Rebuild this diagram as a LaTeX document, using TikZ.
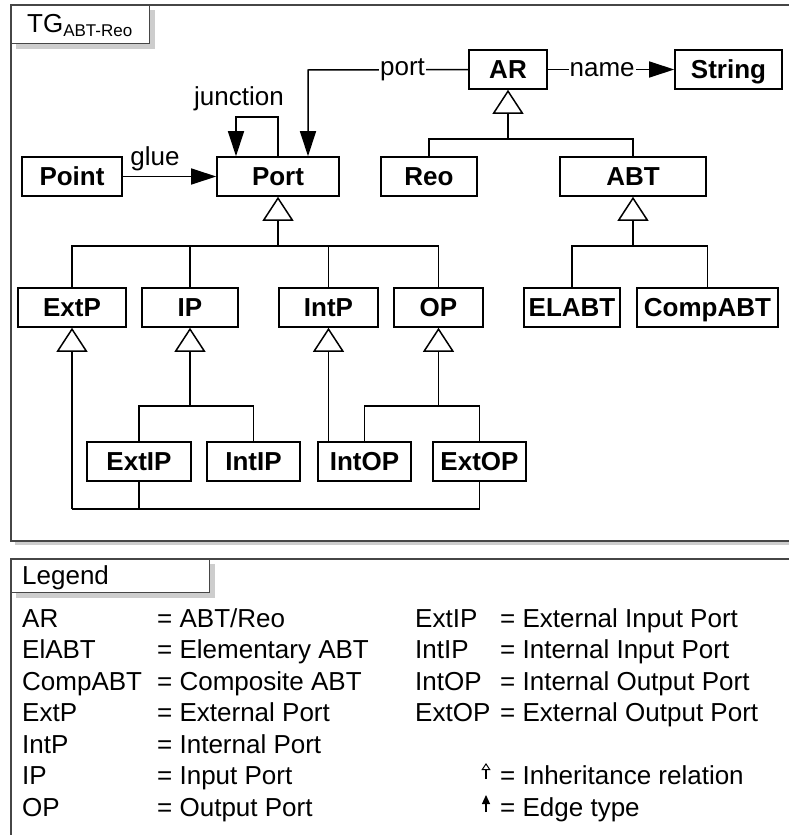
\documentclass[tikz,border=0pt]{standalone}
\usepackage{fontspec}
\setmainfont{Liberation Sans}
\usetikzlibrary{arrows.meta}
\definecolor{framec}{RGB}{70,70,70}
\definecolor{shadowc}{RGB}{205,205,205}
\begin{document}
\begin{tikzpicture}[x=1pt,y=-1pt,
  cls/.style={draw=black, fill=white, line width=1.6pt, inner sep=0pt,
    font=\fontsize{26}{30}\selectfont\bfseries, text height=18.6pt, text depth=0pt,
    minimum height=39pt},
  ln/.style={line width=1.2pt},
  inh/.style={line width=1.2pt, -{Triangle[open, length=24pt, width=31pt, line width=1.5pt]}},
  assoc/.style={line width=1.5pt, -{Triangle[length=25pt, width=16pt]}},
  lab/.style={font=\fontsize{26}{30}\selectfont, inner sep=1pt},
  leg/.style={font=\fontsize{26}{30}\selectfont, inner sep=0pt, anchor=base west},
  framel/.style={draw=framec, line width=1.3pt}
]
\useasboundingbox (0,0) rectangle (788,835);

% ---------- top frame ----------
\fill[shadowc] (15,541) rectangle (800,545);
\draw[framel] (800,5) -- (11,5) -- (11,541) -- (800,541);
\fill[shadowc] (16,10) rectangle (155,49);
\node[draw=framec, fill=white, line width=1.3pt, inner sep=0pt, minimum width=138pt,
      minimum height=38pt, anchor=north west] (tg) at (11,5) {};
\node[leg] (tgtext) at (27,32) {TG\raisebox{-4pt}{\fontsize{17}{20}\selectfont ABT-Reo}};

% ---------- classes ----------
\node[cls, minimum width=78pt]  (AR)     at (508,69.5) {AR};
\node[cls, minimum width=107pt] (String) at (728.5,69.5) {String};
\node[cls, minimum width=100pt] (Point)  at (72,176.5) {Point};
\node[cls, minimum width=122pt] (Port)   at (278,176.5) {Port};
\node[cls, minimum width=96pt]  (Reo)    at (429,176.5) {Reo};
\node[cls, minimum width=146pt] (ABT)    at (633,176.5) {ABT};

\node[cls, minimum width=108pt] (ExtP)    at (72,307.5) {ExtP};
\node[cls, minimum width=96pt]  (IP)      at (190,307.5) {IP};
\node[cls, minimum width=99pt]  (IntP)    at (328.5,307.5) {IntP};
\node[cls, minimum width=89pt]  (OP)      at (438.5,307.5) {OP};
\node[cls, minimum width=96pt]  (ELABT)   at (572,307.5) {ELABT};
\node[cls, minimum width=141pt] (CompABT) at (707.5,307.5) {CompABT};

\node[cls, minimum width=104pt] (ExtIP) at (139,461.5) {ExtIP};
\node[cls, minimum width=93pt]  (IntIP) at (253.5,461.5) {IntIP};
\node[cls, minimum width=93pt]  (IntOP) at (364.5,461.5) {IntOP};
\node[cls, minimum width=93pt]  (ExtOP) at (479.5,461.5) {ExtOP};

% ---------- inheritance ----------
\coordinate (arbr) at (508,139);
\draw[ln] (Reo.north) |- (arbr) -| (ABT.north);
\draw[inh] (arbr) -- (AR.south);

\coordinate (portbr) at (278,246);
\draw[ln] (ExtP.north) |- (portbr) -| (OP.north);
\draw[ln] (IP.north) -- (IP.north |- portbr);
\draw[ln] (IntP.north) -- (IntP.north |- portbr);
\draw[inh] (portbr) -- (Port.south);

\coordinate (abtbr) at (633,246);
\draw[ln] (ELABT.north) |- (abtbr) -| (CompABT.north);
\draw[inh] (abtbr) -- (ABT.south);

\coordinate (ipbr) at (190,406);
\draw[ln] (ExtIP.north) |- (ipbr) -| (IntIP.north);
\draw[inh] (ipbr) -- (IP.south);

\draw[inh] (IntP.south |- IntOP.north) -- (IntP.south);

\coordinate (opbr) at (438.5,406);
\draw[ln] (IntOP.north) |- (opbr) -| (ExtOP.north);
\draw[inh] (opbr) -- (OP.south);

\coordinate (extbr) at (72,509);
\draw[ln] (ExtIP.south) |- (extbr);
\draw[ln] (ExtOP.south) |- (extbr);
\draw[inh] (extbr) -- (ExtP.south);

% ---------- associations ----------
\draw[assoc] (Point.east) -- (Port.west);
\node[lab, anchor=base] (gluelbl) at (155,165) {glue};

\coordinate (jc1) at (278,117);
\coordinate (jc2) at (236,117);
\draw[assoc] (Port.north) -- (jc1) -- (jc2) -- (jc2 |- Port.north);
\node[lab, anchor=base] (junclbl) at (239,105) {junction};

\coordinate (pc) at (308,70);
\draw[assoc] (AR.west) -- node[lab, fill=white, pos=0.41]{port} (pc) -- (pc |- Port.north);

\draw[assoc] (AR.east) -- node[lab, fill=white, pos=0.43]{name} (String.west);

% ---------- legend ----------
\draw[framel] (800,559) -- (11,559) -- (11,840);
\fill[shadowc] (16,564) rectangle (215,598);
\node[draw=framec, fill=white, line width=1.3pt, inner sep=0pt, minimum width=198pt,
      minimum height=33pt, anchor=north west] (legbox) at (11,559) {};
\node[leg] (legtext) at (22,584) {Legend};

\node[leg] (l1a) at (22,627) {AR};      \node[leg] (l1b) at (157,627) {= ABT/Reo};
\node[leg] (l2a) at (22,658.5) {ElABT}; \node[leg] (l2b) at (157,658.5) {= Elementary ABT};
\node[leg] (l3a) at (22,690) {CompABT}; \node[leg] (l3b) at (157,690) {= Composite ABT};
\node[leg] (l4a) at (22,721.5) {ExtP};  \node[leg] (l4b) at (157,721.5) {= External Port};
\node[leg] (l5a) at (22,753) {IntP};    \node[leg] (l5b) at (157,753) {= Internal Port};
\node[leg] (l6a) at (22,784.5) {IP};    \node[leg] (l6b) at (157,784.5) {= Input Port};
\node[leg] (l7a) at (22,816) {OP};      \node[leg] (l7b) at (157,816) {= Output Port};

\node[leg] (r1a) at (415,627) {ExtIP};   \node[leg] (r1b) at (500,627) {= External Input Port};
\node[leg] (r2a) at (415,658.5) {IntIP}; \node[leg] (r2b) at (500,658.5) {= Internal Input Port};
\node[leg] (r3a) at (415,690) {IntOP};   \node[leg] (r3b) at (500,690) {= Internal Output Port};
\node[leg] (r4a) at (415,721.5) {ExtOP}; \node[leg] (r4b) at (500,721.5) {= External Output Port};
\node[leg] (r5b) at (500,784.5) {= Inheritance relation};
\node[leg] (r6b) at (500,816) {= Edge type};

\draw[line width=1.2pt, -{Triangle[open, length=7pt, width=9pt, line width=1pt]}] (486,779) -- (486,763);
\draw[line width=1.2pt, -{Triangle[length=9pt, width=8pt]}] (486,812) -- (486,795);
\end{tikzpicture}
\end{document}
